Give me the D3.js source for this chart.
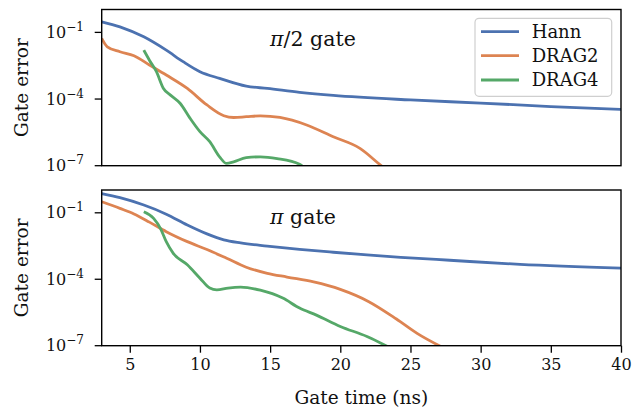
<!DOCTYPE html>
<html>
<head>
<meta charset="utf-8">
<script src="https://cdn.jsdelivr.net/npm/d3@7"></script>
<style>
  html, body { margin: 0; padding: 0; background: #fff; }
  svg { display: block; }
  text { font-family: "DejaVu Serif", "Liberation Serif", serif; fill: #111; }
</style>
</head>
<body>
<svg id="chart" width="639" height="409"></svg>
<script>
// ---------------- data ----------------
const seriesNames = ["Hann", "DRAG2", "DRAG4"];
const seriesColors = ["#4C72B0", "#DD8452", "#55A868"];
const panelSymbols = ["\u03c0", "\u03c0"];
const panelTitleRest = ["/2 gate", " gate"];
const xTicks = [5, 10, 15, 20, 25, 30, 35, 40];
const yTickExponents = [-1, -4, -7];

// π/2 gate
const halfHannTime = [3, 4.3, 6, 7.6, 8.8, 10, 11.4, 13.3, 14.8, 17.1, 19.5, 25, 30, 35, 40];
const halfHannError = [0.30, 0.178, 0.063, 0.0158, 0.0048, 0.0017, 8.5e-4, 3.8e-4, 3.0e-4, 2.0e-4, 1.45e-4, 9.1e-5, 6.6e-5, 4.6e-5, 3.4e-5];
const halfDrag2Time = [3, 3.4, 4.3, 5.3, 6.4, 7.6, 9.1, 10.5, 11.7, 12.4, 13.3, 14.3, 15.7, 17.6, 19.5, 21.4, 22.8, 23.5];
const halfDrag2Error = [0.0537, 0.0224, 0.0135, 0.0089, 0.0034, 0.0012, 3.0e-4, 5.4e-5, 1.78e-5, 1.48e-5, 1.6e-5, 1.75e-5, 1.48e-5, 6.8e-6, 2.0e-6, 6.0e-7, 1.15e-7, 5e-8];
const halfDrag4Time = [6.0, 6.4, 6.9, 7.4, 7.9, 8.6, 9.3, 10.0, 10.7, 11.4, 11.9, 12.4, 13.3, 14.3, 15.5, 17.1, 17.6];
const halfDrag4Error = [0.0158, 0.0056, 0.0017, 3.0e-4, 1.5e-4, 6.3e-5, 1.35e-5, 3.4e-6, 1.2e-6, 2.5e-7, 1.26e-7, 1.5e-7, 2.3e-7, 2.5e-7, 2.1e-7, 1.15e-7, 6.3e-8];

// π gate
const fullHannTime = [3, 4.3, 6, 7.6, 9.1, 10.5, 11.7, 12.9, 14.8, 17.1, 19.5, 21.9, 24.3, 27.8, 32.8, 40];
const fullHannError = [0.74, 0.48, 0.224, 0.087, 0.0282, 0.0112, 0.0060, 0.00437, 0.00316, 0.00224, 0.00166, 0.00126, 9.8e-4, 7.2e-4, 4.7e-4, 3.2e-4];
const fullDrag2Time = [3, 4.3, 5.3, 6.4, 7.6, 9.1, 10.5, 11.9, 13.3, 14.8, 16.2, 18.1, 20, 22, 24, 25.5, 27.2];
const fullDrag2Error = [0.316, 0.158, 0.089, 0.038, 0.0141, 0.0050, 0.0022, 8.9e-4, 3.5e-4, 1.86e-4, 1.26e-4, 7.6e-5, 3.5e-5, 1.0e-5, 1.6e-6, 3.5e-7, 8.9e-8];
const fullDrag4Time = [6.0, 6.7, 7.2, 7.6, 8.1, 9.1, 10.0, 10.7, 11.2, 12.0, 12.9, 14.3, 15.9, 17.1, 18.3, 20, 21.9, 23.4];
const fullDrag4Error = [0.112, 0.056, 0.019, 0.0050, 0.00148, 4.5e-4, 1.12e-4, 4.0e-5, 3.3e-5, 4.0e-5, 4.4e-5, 3.2e-5, 1.41e-5, 5.0e-6, 2.4e-6, 7.4e-7, 2.6e-7, 8.9e-8];

const panels = [
  { sym: panelSymbols[0], rest: panelTitleRest[0], series: [[halfHannTime, halfHannError], [halfDrag2Time, halfDrag2Error], [halfDrag4Time, halfDrag4Error]] },
  { sym: panelSymbols[1], rest: panelTitleRest[1], series: [[fullHannTime, fullHannError], [fullDrag2Time, fullDrag2Error], [fullDrag4Time, fullDrag4Error]] }
];

// ---------------- layout ----------------
const svg = d3.select("#chart");
const left = 101.7, right = 621;
const panelBoxes = [{ top: 9.5, bottom: 165.7, titleY: 46 }, { top: 190, bottom: 345.7, titleY: 224 }];

const x = d3.scaleLinear().domain([3, 40]).range([left, right]);

panels.forEach((panel, pi) => {
  const box = panelBoxes[pi];
  const y = d3.scaleLog().domain([1e-7, Math.pow(10, 0.03)]).range([box.bottom, box.top]);
  const g = svg.append("g");

  const clipId = "clip" + pi;
  svg.append("clipPath").attr("id", clipId)
    .append("rect").attr("x", left).attr("y", box.top).attr("width", right - left).attr("height", box.bottom - box.top);

  const line = d3.line()
    .x(d => x(d[0]))
    .y(d => y(d[1]))
    .curve(d3.curveMonotoneX);

  const linesG = g.append("g").attr("clip-path", `url(#${clipId})`);
  panel.series.forEach((s, si) => {
    const pts = s[0].map((t, i) => [t, s[1][i]]);
    linesG.append("path")
      .attr("d", line(pts))
      .attr("fill", "none")
      .attr("stroke", seriesColors[si])
      .attr("stroke-width", 2.8)
      .attr("stroke-linejoin", "round")
      .attr("stroke-linecap", "butt");
  });

  // y axis ticks
  const yAx = g.append("g");
  yTickExponents.forEach(e => {
    const yy = y(Math.pow(10, e));
    yAx.append("line").attr("x1", left - 7).attr("x2", left).attr("y1", yy).attr("y2", yy)
      .attr("stroke", "#000").attr("stroke-width", 1.3);
    const t = yAx.append("text").attr("x", 84).attr("y", yy + 5.5)
      .attr("text-anchor", "end").style("font-size", "16px");
    t.append("tspan").text("10");
    t.append("tspan").attr("dy", -7).style("font-size", "12px").text(String(e).replace("-", "\u2212"));
  });

  // x axis ticks (bottom panel only labels)
  if (pi === 1) {
    const xAxis = d3.axisBottom(x).tickValues(xTicks).tickSize(7).tickPadding(6).tickFormat(d3.format("d"));
    const xa = g.append("g").attr("transform", `translate(0,${box.bottom})`).call(xAxis);
    xa.select(".domain").remove();
    xa.selectAll(".tick line").attr("stroke", "#000").attr("stroke-width", 1.3);
    xa.selectAll(".tick text").style("font-size", "16px").style("font-family", "DejaVu Serif").attr("fill", "#111");
  }

  // frame
  g.append("rect").attr("x", left).attr("y", box.top).attr("width", right - left).attr("height", box.bottom - box.top)
    .attr("fill", "none").attr("stroke", "#000").attr("stroke-width", 1.4);

  // title
  const tt = g.append("text").attr("x", x(15)).attr("y", box.titleY).style("font-size", "20.5px");
  tt.append("tspan").style("font-style", "italic").text(panel.sym);
  tt.append("tspan").text(panel.rest);

  // y label
  g.append("text")
    .attr("transform", `translate(28,${(box.top + box.bottom) / 2}) rotate(-90)`)
    .attr("text-anchor", "middle").style("font-size", "18.5px").text("Gate error");
});

// legend in top panel
const lg = svg.append("g");
lg.append("rect").attr("x", 475).attr("y", 18.3).attr("width", 136.7).attr("height", 78)
  .attr("rx", 4).attr("fill", "#fff").attr("fill-opacity", 0.8).attr("stroke", "#cfcfcf").attr("stroke-width", 1.2);
const rowY = [31.7, 55.7, 80];
seriesNames.forEach((name, i) => {
  lg.append("line").attr("x1", 481).attr("x2", 519).attr("y1", rowY[i]).attr("y2", rowY[i])
    .attr("stroke", seriesColors[i]).attr("stroke-width", 2.8);
  lg.append("text").attr("x", 531.7).attr("y", rowY[i] + 6).style("font-size", "18px").text(name);
});

// x label
svg.append("text").attr("x", (left + right) / 2).attr("y", 404).attr("text-anchor", "middle")
  .style("font-size", "18.5px").text("Gate time (ns)");
</script>
</body>
</html>
